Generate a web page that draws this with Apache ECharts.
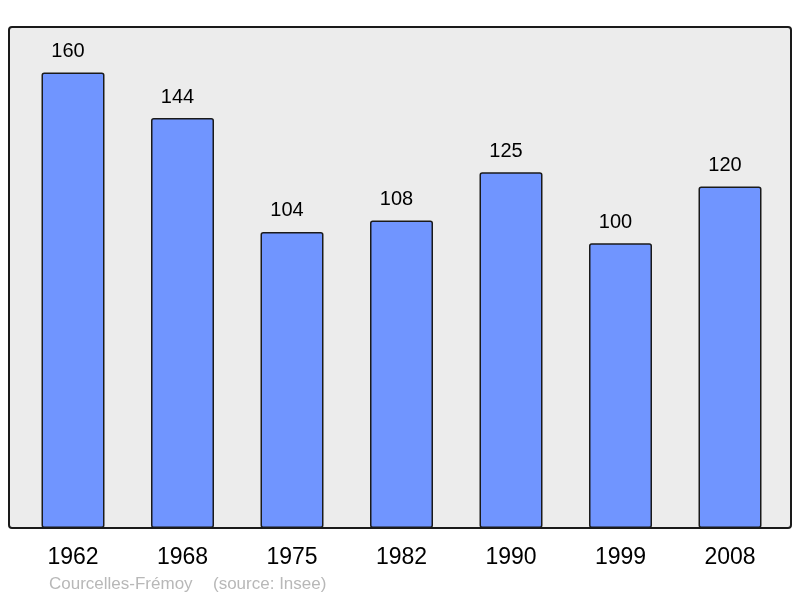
<!DOCTYPE html>
<html>
<head>
<meta charset="utf-8">
<script src="https://cdn.jsdelivr.net/npm/echarts@6/dist/echarts.min.js"></script>
<style>html,body{margin:0;padding:0;background:#fff;}#c{width:800px;height:598px;}</style>
</head>
<body>
<div id="c"></div>
<script>
const years = ['1962', '1968', '1975', '1982', '1990', '1999', '2008'];
const population = [160, 144, 104, 108, 125, 100, 120];
const placeName = 'Courcelles-Frémoy';
const sourceText = '(source: Insee)';

const chart = echarts.init(document.getElementById('c'), null, {renderer: 'canvas'});
chart.setOption({
  animation: false,
  backgroundColor: '#ffffff',
  textStyle: {fontFamily: 'Liberation Sans, Arial, sans-serif'},
  grid: {left: 18.25, right: 800 - 784.75, top: 27, bottom: 70, containLabel: false},
  graphic: [
    {type: 'rect', z: 0, shape: {x: 9, y: 27, width: 782, height: 501, r: 3},
     style: {fill: '#ececec', stroke: '#1a1a1a', lineWidth: 2}},
    {type: 'text', left: 49, top: 576, z: 10,
     style: {text: placeName, fill: '#b8b8b8', font: '17px "Liberation Sans", Arial, sans-serif'}},
    {type: 'text', left: 213, top: 576, z: 10,
     style: {text: sourceText, fill: '#b8b8b8', font: '17px "Liberation Sans", Arial, sans-serif'}}
  ],
  xAxis: {
    type: 'category', data: years,
    axisLine: {show: false}, axisTick: {show: false},
    axisLabel: {fontSize: 23, color: '#000', margin: 18, fontFamily: 'Liberation Sans'}
  },
  yAxis: {type: 'value', min: 0, max: 176, show: false, splitLine: {show: false}},
  series: [{
    type: 'bar', data: population, barWidth: 63, z: 5,
    itemStyle: {color: '#7095ff', borderColor: '#1a1a1a', borderWidth: 1.5, borderRadius: 2},
    label: {show: true, position: 'top', distance: 11, offset: [-5, 0], fontSize: 20, color: '#000', fontFamily: 'Liberation Sans'}
  }]
});
</script>
</body>
</html>
